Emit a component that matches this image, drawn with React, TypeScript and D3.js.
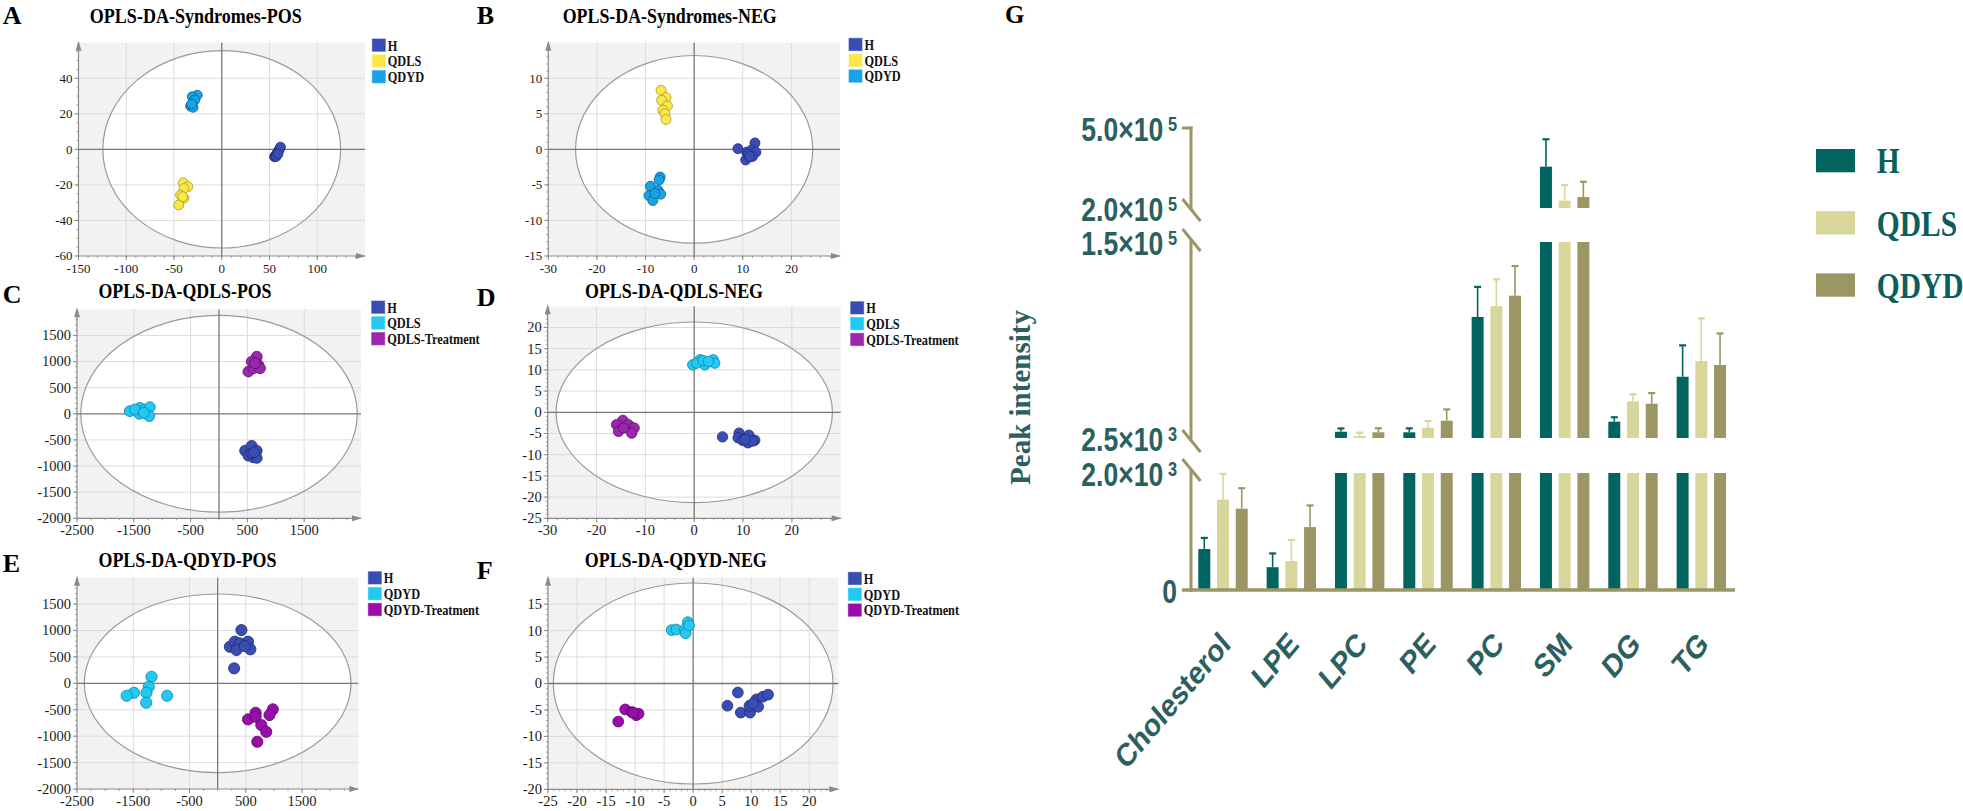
import React from 'react';
import * as d3 from 'd3';

const SERIF = '"Liberation Serif", "Times New Roman", serif';
const SANS = '"Liberation Sans", Arial, sans-serif';

type Pt = [number, number];

// ---------- OPLS-DA score plots (t[1] vs to[1]) ----------
const aH: Pt[] = [[55.2, -4.2], [56.5, -3.5], [57.5, -2.6], [58.5, -1.8], [59.5, -0.8], [60.5, 0.2], [61.5, 1.3], [57, -4], [59, -2.5]];
const aQDLS: Pt[] = [[-40.4, -18.8], [-35.5, -21], [-39.6, -22], [-43.2, -25.7], [-39.6, -27.5], [-45, -31.3], [-40.8, -26.6]];
const aQDYD: Pt[] = [[-25.6, 30.5], [-30.9, 29.6], [-32.7, 24.3], [-29.9, 23.6], [-28.1, 27.8], [-31.5, 25.5]];

const bH: Pt[] = [[9.0, 0.1], [10.8, -0.4], [12.5, 0.9], [11.8, -0.1], [12.7, -0.4], [10.6, -1.5], [12.0, -1.0], [11.1, -0.7], [11.4, -1.0]];
const bQDLS: Pt[] = [[-6.8, 8.3], [-5.8, 7.3], [-6.7, 6.9], [-5.5, 6.1], [-6.4, 5.5], [-6.0, 5.0], [-5.8, 4.2]];
const bQDYD: Pt[] = [[-7.0, -3.9], [-7.2, -4.3], [-9.0, -5.2], [-7.4, -5.8], [-6.9, -6.3], [-9.3, -6.5], [-8.5, -7.2], [-8.1, -6.2]];

const cH: Pt[] = [[459, -706], [576, -612], [665, -706], [517, -801], [605, -833], [665, -845], [576, -757], [617, -738]];
const cQDLS: Pt[] = [[-1570, 51], [-1393, 114], [-1405, 0], [-1305, 83], [-1217, 127], [-1229, -44], [-1481, 83], [-1323, 19]];
const cTreat: Pt[] = [[665, 1093], [517, 809], [605, 871], [693, 935], [723, 871], [576, 998], [635, 966]];

const dH: Pt[] = [[5.8, -5.8], [9.2, -4.9], [11.2, -5.4], [9.0, -6.0], [9.9, -6.6], [11.0, -7.2], [12.4, -6.6], [11.9, -6.8], [10.4, -6.4]];
const dQDLS: Pt[] = [[-0.3, 11.2], [1.2, 12.4], [2.2, 11.2], [3.9, 12.4], [4.2, 11.6], [0.5, 11.6], [1.8, 12.2], [2.9, 12.0]];
const dTreat: Pt[] = [[-14.6, -1.9], [-15.9, -2.9], [-15.5, -4.5], [-13.5, -2.9], [-12.3, -3.7], [-12.8, -4.9], [-14.5, -3.7]];

const eH: Pt[] = [[423, 1009], [217, 693], [305, 788], [393, 757], [540, 788], [335, 631], [582, 644], [293, 284], [481, 706]];
const eQDYD: Pt[] = [[-1176, 125], [-1224, -64], [-1265, -178], [-1270, -367], [-1488, -178], [-1617, -235], [-899, -235]];
const eTreat: Pt[] = [[675, -557], [540, -682], [675, -633], [776, -790], [864, -917], [705, -1106], [981, -492], [922, -600]];

const fH: Pt[] = [[7.7, -1.7], [5.9, -4.2], [8.2, -5.5], [9.8, -5.5], [9.7, -4.2], [10.9, -3.0], [11.2, -4.4], [12.0, -2.5], [12.9, -2.1], [10.3, -3.8]];
const fQDYD: Pt[] = [[-3.7, 10.1], [-2.9, 10.2], [-1.4, 10.2], [-0.9, 11.6], [-1.3, 9.5], [-0.7, 11.0]];
const fTreat: Pt[] = [[-11.7, -4.9], [-10.6, -5.4], [-9.8, -6.0], [-9.4, -5.7], [-12.9, -7.2], [-10.3, -5.5]];

const syndromeGroups = ['H', 'QDLS', 'QDYD'];
const qdlsGroups = ['H', 'QDLS', 'QDLS-Treatment'];
const qdydGroups = ['H', 'QDYD', 'QDYD-Treatment'];

const posTicks = [-2500, -1500, -500, 500, 1500];
const posYTicks = [-2000, -1500, -1000, -500, 0, 500, 1000, 1500];

const panels = [
  { key: 'A', title: 'OPLS-DA-Syndromes-POS', xDomain: [-150, 150], yDomain: [-60, 60], xTicks: [-150, -100, -50, 0, 50, 100], yTicks: [-60, -40, -20, 0, 20, 40], xMinor: 10, yMinor: 5, ellipse: [124.5, 55.5], names: syndromeGroups, points: [aH, aQDLS, aQDYD] },
  { key: 'B', title: 'OPLS-DA-Syndromes-NEG', xDomain: [-30, 30], yDomain: [-15, 15], xTicks: [-30, -20, -10, 0, 10, 20], yTicks: [-15, -10, -5, 0, 5, 10], xMinor: 2, yMinor: 1, ellipse: [24.4, 13.2], names: syndromeGroups, points: [bH, bQDLS, bQDYD] },
  { key: 'C', title: 'OPLS-DA-QDLS-POS', xDomain: [-2500, 2500], yDomain: [-2000, 2000], xTicks: posTicks, yTicks: posYTicks, xMinor: 250, yMinor: 100, ellipse: [2434, 1882], names: qdlsGroups, points: [cH, cQDLS, cTreat] },
  { key: 'D', title: 'OPLS-DA-QDLS-NEG', xDomain: [-30, 30], yDomain: [-25, 25], xTicks: [-30, -20, -10, 0, 10, 20], yTicks: [-25, -20, -15, -10, -5, 0, 5, 10, 15, 20], xMinor: 2, yMinor: 1, ellipse: [28.3, 21.3], names: qdlsGroups, points: [dH, dQDLS, dTreat] },
  { key: 'E', title: 'OPLS-DA-QDYD-POS', xDomain: [-2500, 2500], yDomain: [-2000, 2000], xTicks: posTicks, yTicks: posYTicks, xMinor: 250, yMinor: 100, ellipse: [2370, 1691], names: qdydGroups, points: [eH, eQDYD, eTreat] },
  { key: 'F', title: 'OPLS-DA-QDYD-NEG', xDomain: [-25, 25], yDomain: [-20, 20], xTicks: [-25, -20, -15, -10, -5, 0, 5, 10, 15, 20], yTicks: [-20, -15, -10, -5, 0, 5, 10, 15], xMinor: 1, yMinor: 1, ellipse: [24.1, 19.0], names: qdydGroups, points: [fH, fQDYD, fTreat] },
];

// ---------- lipid classes, peak intensity (mean, SD) ----------
const lipids = ['Cholesterol', 'LPE', 'LPC', 'PE', 'PC', 'SM', 'DG', 'TG'];
const barGroups = ['H', 'QDLS', 'QDYD'];
const meanH = [700, 390, 7200, 6800, 93600, 355000, 14800, 48600];
const meanQDLS = [1545, 495, 4000, 10250, 101800, 227500, 30100, 60400];
const meanQDYD = [1390, 1075, 6800, 15500, 109600, 241000, 28300, 57400];
const sdH = [190, 235, 2500, 3000, 22600, 102700, 3300, 23600];
const sdQDLS = [440, 360, 2500, 5000, 20100, 58700, 5300, 32100];
const sdQDYD = [350, 370, 3000, 8500, 22300, 57500, 8000, 23800];
const breaks = [[0, 2000], [2500, 150000], [200000, 500000]];
const yTickLabels = [
  { v: 0, m: '0', e: '' },
  { v: 2000, m: '2.0×10', e: '3' },
  { v: 2500, m: '2.5×10', e: '3' },
  { v: 150000, m: '1.5×10', e: '5' },
  { v: 200000, m: '2.0×10', e: '5' },
  { v: 500000, m: '5.0×10', e: '5' },
];

// ---------- styles / layout ----------
const dot = {
  blue: ['#3a4db3', '#1f2b7a'],
  yellow: ['#fbe64b', '#a89a20'],
  sky: ['#17a3e8', '#0d5e8a'],
  cyan: ['#22caf3', '#1180a2'],
  purple: ['#9b27af', '#5a1066'],
  violet: ['#9a0cab', '#570564'],
};
const palettes: Record<string, string[][]> = {
  A: [dot.blue, dot.yellow, dot.sky],
  B: [dot.blue, dot.yellow, dot.sky],
  C: [dot.blue, dot.cyan, dot.purple],
  D: [dot.blue, dot.cyan, dot.purple],
  E: [dot.blue, dot.cyan, dot.violet],
  F: [dot.blue, dot.cyan, dot.violet],
};
const frames: Record<string, any> = {
  A: { x0: 78.5, x1: 365, y0: 256, y1: 42.7, lx: 2.7, ly: 23.5, tx: 195.8, ty: 23, tw: 212, gx: 372.3, gy: 39, fs: 13, r: 4.9 },
  B: { x0: 548.3, x1: 840, y0: 256, y1: 42.7, lx: 476.7, ly: 23.5, tx: 669.7, ty: 23, tw: 214, gx: 849, gy: 38.3, fs: 13, r: 5 },
  C: { x0: 77, x1: 361, y0: 518.3, y1: 309.3, lx: 2.7, ly: 303.3, tx: 185, ty: 298, tw: 173, gx: 371.7, gy: 301, fs: 14.5, r: 5.4 },
  D: { x0: 547.7, x1: 840.7, y0: 518.3, y1: 306.3, lx: 476.7, ly: 306, tx: 674, ty: 298.3, tw: 178, gx: 850.7, gy: 301.7, fs: 14.5, r: 5.2 },
  E: { x0: 77, x1: 358.3, y0: 789, y1: 577.7, lx: 2.7, ly: 571.7, tx: 187.5, ty: 566.7, tw: 178, gx: 368.3, gy: 571.7, fs: 14.5, r: 5.6 },
  F: { x0: 548, x1: 838.3, y0: 789.3, y1: 577.7, lx: 476.7, ly: 579.3, tx: 675.8, ty: 566.7, tw: 182, gx: 848.3, gy: 572.3, fs: 14.5, r: 5.4 },
};

const TEAL_TXT = '#2b5f60';
const barColors = ['#02645f', '#d8d79b', '#9b9663'];
const AXIS_OLIVE = '#9b9663';

const Txt = ({ x, y, sx = 1, rot = 0, anchor = 'start', size, family = SERIF, weight = 'normal', fill = '#111', children }: any) => (
  <text
    transform={`translate(${x},${y}) scale(${sx},1)${rot ? ` rotate(${rot})` : ''}`}
    textAnchor={anchor}
    fontSize={size}
    fontFamily={family}
    fontWeight={weight}
    fill={fill}
  >
    {children}
  </text>
);

function Scatter({ p }: any) {
  const f = frames[p.key];
  const pal = palettes[p.key];
  const x = d3.scaleLinear().domain(p.xDomain).range([f.x0, f.x1]);
  const y = d3.scaleLinear().domain(p.yDomain).range([f.y0, f.y1]);
  const gridX = p.xTicks.filter((v: number) => v !== p.xDomain[0] && v !== 0);
  const gridY = p.yTicks.filter((v: number) => v !== p.yDomain[0] && v !== 0);
  const minorX = d3.range(p.xDomain[0], p.xDomain[1] - 1e-9, p.xMinor);
  const minorY = d3.range(p.yDomain[0], p.yDomain[1] - 1e-9, p.yMinor);
  const axisCol = '#8a8a8a';

  return (
    <g>
      <Txt x={f.lx} y={f.ly} size={26} weight="bold" fill="#000">{p.key}</Txt>
      <text x={f.tx} y={f.ty} textAnchor="middle" fontFamily={SERIF} fontWeight="bold" fontSize={21}
        textLength={f.tw} lengthAdjust="spacingAndGlyphs" fill="#000">{p.title}</text>

      <rect x={f.x0} y={f.y1} width={f.x1 - f.x0} height={f.y0 - f.y1} fill="#f2f2f2" />
      <ellipse cx={x(0)} cy={y(0)} rx={x(p.ellipse[0]) - x(0)} ry={y(0) - y(p.ellipse[1])} fill="#fff" />
      {gridX.map((v: number) => (
        <line key={'gx' + v} x1={x(v)} x2={x(v)} y1={f.y0} y2={f.y1} stroke="#dcdcdc" strokeWidth={1} />
      ))}
      {gridY.map((v: number) => (
        <line key={'gy' + v} x1={f.x0} x2={f.x1} y1={y(v)} y2={y(v)} stroke="#dcdcdc" strokeWidth={1} />
      ))}
      <ellipse cx={x(0)} cy={y(0)} rx={x(p.ellipse[0]) - x(0)} ry={y(0) - y(p.ellipse[1])} fill="none" stroke="#9a9a9a" strokeWidth={1.2} />
      <line x1={x(0)} x2={x(0)} y1={f.y0} y2={f.y1} stroke="#777" strokeWidth={1.3} />
      <line x1={f.x0} x2={f.x1} y1={y(0)} y2={y(0)} stroke="#777" strokeWidth={1.3} />

      {/* axes */}
      <line x1={f.x0} x2={f.x0} y1={f.y0} y2={f.y1} stroke={axisCol} strokeWidth={1.2} />
      <line x1={f.x0} x2={f.x1} y1={f.y0} y2={f.y0} stroke={axisCol} strokeWidth={1.2} />
      <path d={`M${f.x0},${f.y1 - 2}L${f.x0 - 3},${f.y1 + 8}L${f.x0 + 3},${f.y1 + 8}Z`} fill={axisCol} />
      <path d={`M${f.x1 + 1},${f.y0}L${f.x1 - 9},${f.y0 - 3}L${f.x1 - 9},${f.y0 + 3}Z`} fill={axisCol} />
      {minorY.map((v: number) => (
        <line key={'my' + v} x1={f.x0 - 2} x2={f.x0} y1={y(v)} y2={y(v)} stroke={axisCol} strokeWidth={0.8} />
      ))}
      {minorX.map((v: number) => (
        <line key={'mx' + v} x1={x(v)} x2={x(v)} y1={f.y0} y2={f.y0 + 2} stroke={axisCol} strokeWidth={0.8} />
      ))}
      {p.yTicks.map((v: number) => (
        <g key={'ty' + v}>
          <line x1={f.x0 - 4} x2={f.x0} y1={y(v)} y2={y(v)} stroke={axisCol} strokeWidth={1} />
          <text x={f.x0 - 6} y={y(v) + f.fs * 0.34} textAnchor="end" fontFamily={SERIF} fontSize={f.fs} fill="#1a1a1a">{v}</text>
        </g>
      ))}
      {p.xTicks.map((v: number) => (
        <g key={'tx' + v}>
          <line x1={x(v)} x2={x(v)} y1={f.y0} y2={f.y0 + 4} stroke={axisCol} strokeWidth={1} />
          <text x={x(v)} y={f.y0 + 17} textAnchor="middle" fontFamily={SERIF} fontSize={f.fs} fill="#1a1a1a">{v}</text>
        </g>
      ))}

      {p.points.map((pts: Pt[], gi: number) =>
        pts.map((d, i) => (
          <circle key={gi + '-' + i} cx={x(d[0])} cy={y(d[1])} r={f.r} fill={pal[gi][0]} stroke={pal[gi][1]} strokeWidth={0.8} />
        ))
      )}

      {p.names.map((n: string, i: number) => (
        <g key={'lg' + n}>
          <rect x={f.gx} y={f.gy + i * 15.8} width={13} height={12.3} fill={pal[i][0]} stroke={pal[i][0]} strokeOpacity={0.6} />
          <Txt x={f.gx + 15.5} y={f.gy + i * 15.8 + 11.5} sx={0.88} size={14} weight="bold" fill="#111">{n}</Txt>
        </g>
      ))}
    </g>
  );
}

function BarChart() {
  const axX = 1191;
  const x0 = d3.scaleBand().domain(lipids).range([1188.84, 1735.5]).paddingInner(0.277).paddingOuter(0.1385);
  const x1 = d3.scaleBand().domain(barGroups).range([0, x0.bandwidth()]).paddingInner(0.36);
  const segRanges = [[590, 473], [438, 242], [208, 128]];
  const ys = breaks.map((b, i) => d3.scaleLinear().domain(b).range(segRanges[i]));
  const means = [meanH, meanQDLS, meanQDYD];
  const sds = [sdH, sdQDLS, sdQDYD];
  const segOf = (v: number) => breaks.findIndex((b) => v >= b[0] && v <= b[1]);

  const diag = (cy: number, k: string) => (
    <line key={k} x1={axX - 8.5} y1={cy - 11} x2={axX + 9.5} y2={cy + 11} stroke={AXIS_OLIVE} strokeWidth={3} />
  );

  return (
    <g>
      <Txt x={1005} y={23} size={25} weight="bold" fill="#000">G</Txt>

      {/* bars, split over the three axis segments */}
      {lipids.map((c, ci) =>
        barGroups.map((g, gi) => {
          const v = means[gi][ci];
          const sd = sds[gi][ci];
          const bx = (x0(c) as number) + (x1(g) as number);
          const w = x1.bandwidth();
          const rects = breaks.map((b, si) => {
            if (v <= b[0]) return null;
            const top = ys[si](Math.min(v, b[1]));
            const bot = ys[si](b[0]);
            return <rect key={si} x={bx} y={top} width={w} height={bot - top} fill={barColors[gi]} />;
          });
          const si = segOf(v);
          let err = null;
          if (si >= 0) {
            const yv = ys[si](v);
            const ye = ys[si](Math.min(v + sd, breaks[si][1]));
            const cx = bx + w / 2;
            err = (
              <g>
                <line x1={cx} x2={cx} y1={yv} y2={ye} stroke={barColors[gi]} strokeWidth={1.6} />
                <line x1={cx - 3.5} x2={cx + 3.5} y1={ye} y2={ye} stroke={barColors[gi]} strokeWidth={2.2} />
              </g>
            );
          }
          return (
            <g key={c + g}>
              {rects}
              {err}
            </g>
          );
        })
      )}

      {/* broken y axis */}
      <line x1={1182} x2={1735} y1={590} y2={590} stroke={AXIS_OLIVE} strokeWidth={3.5} />
      <line x1={axX} x2={axX} y1={592} y2={ys[0](2000) - 3} stroke={AXIS_OLIVE} strokeWidth={3} />
      <line x1={axX} x2={axX} y1={ys[1](2500) + 3} y2={ys[1](150000) - 2} stroke={AXIS_OLIVE} strokeWidth={3} />
      <line x1={axX} x2={axX} y1={ys[2](200000) + 2} y2={ys[2](500000) - 1.5} stroke={AXIS_OLIVE} strokeWidth={3} />
      <line x1={1182} x2={axX + 1.5} y1={ys[2](500000)} y2={ys[2](500000)} stroke={AXIS_OLIVE} strokeWidth={3} />
      {diag(ys[0](2000) - 3, 'd0')}
      {diag(ys[1](2500) + 3, 'd1')}
      {diag(ys[1](150000) - 2, 'd2')}
      {diag(ys[2](200000) + 2, 'd3')}

      {yTickLabels.map((t) => {
        const si = segOf(t.v);
        const yy = ys[si](t.v);
        return (
          <text key={t.v} transform={`translate(1177,${yy + 12.5}) scale(0.78,1)`} textAnchor="end"
            fontFamily={SANS} fontWeight="bold" fontSize={34} fill={TEAL_TXT}>
            <tspan>{t.m}</tspan>
            {t.e && <tspan dx={6} dy={-10} fontSize={21}>{t.e}</tspan>}
          </text>
        );
      })}

      <Txt x={1030} y={397.5} rot={-90} anchor="middle" size={29} weight="bold" fill={TEAL_TXT}>Peak intensity</Txt>

      {lipids.map((c) => (
        <Txt key={c} x={(x0(c) as number) + x0.bandwidth() / 2 + 9} y={646} sx={0.85} rot={-45} anchor="end"
          size={32} family={SANS} weight="bold" fill={TEAL_TXT}>{c}</Txt>
      ))}

      {barGroups.map((g, i) => (
        <g key={'bl' + g}>
          <rect x={1816} y={149 + i * 62.2} width={39} height={23.3} fill={barColors[i]} />
          <Txt x={1876.7} y={173 + i * 62.5} sx={0.82} size={36} weight="bold" fill="#0b5e5c">{g}</Txt>
        </g>
      ))}
    </g>
  );
}

export default function App() {
  return (
    <svg width={1963} height={811} style={{ position: 'absolute', left: 0, top: 0, background: '#fff' }}>
      <rect width={1963} height={811} fill="#fff" />
      {panels.map((p) => (
        <Scatter key={p.key} p={p} />
      ))}
      <BarChart />
    </svg>
  );
}
